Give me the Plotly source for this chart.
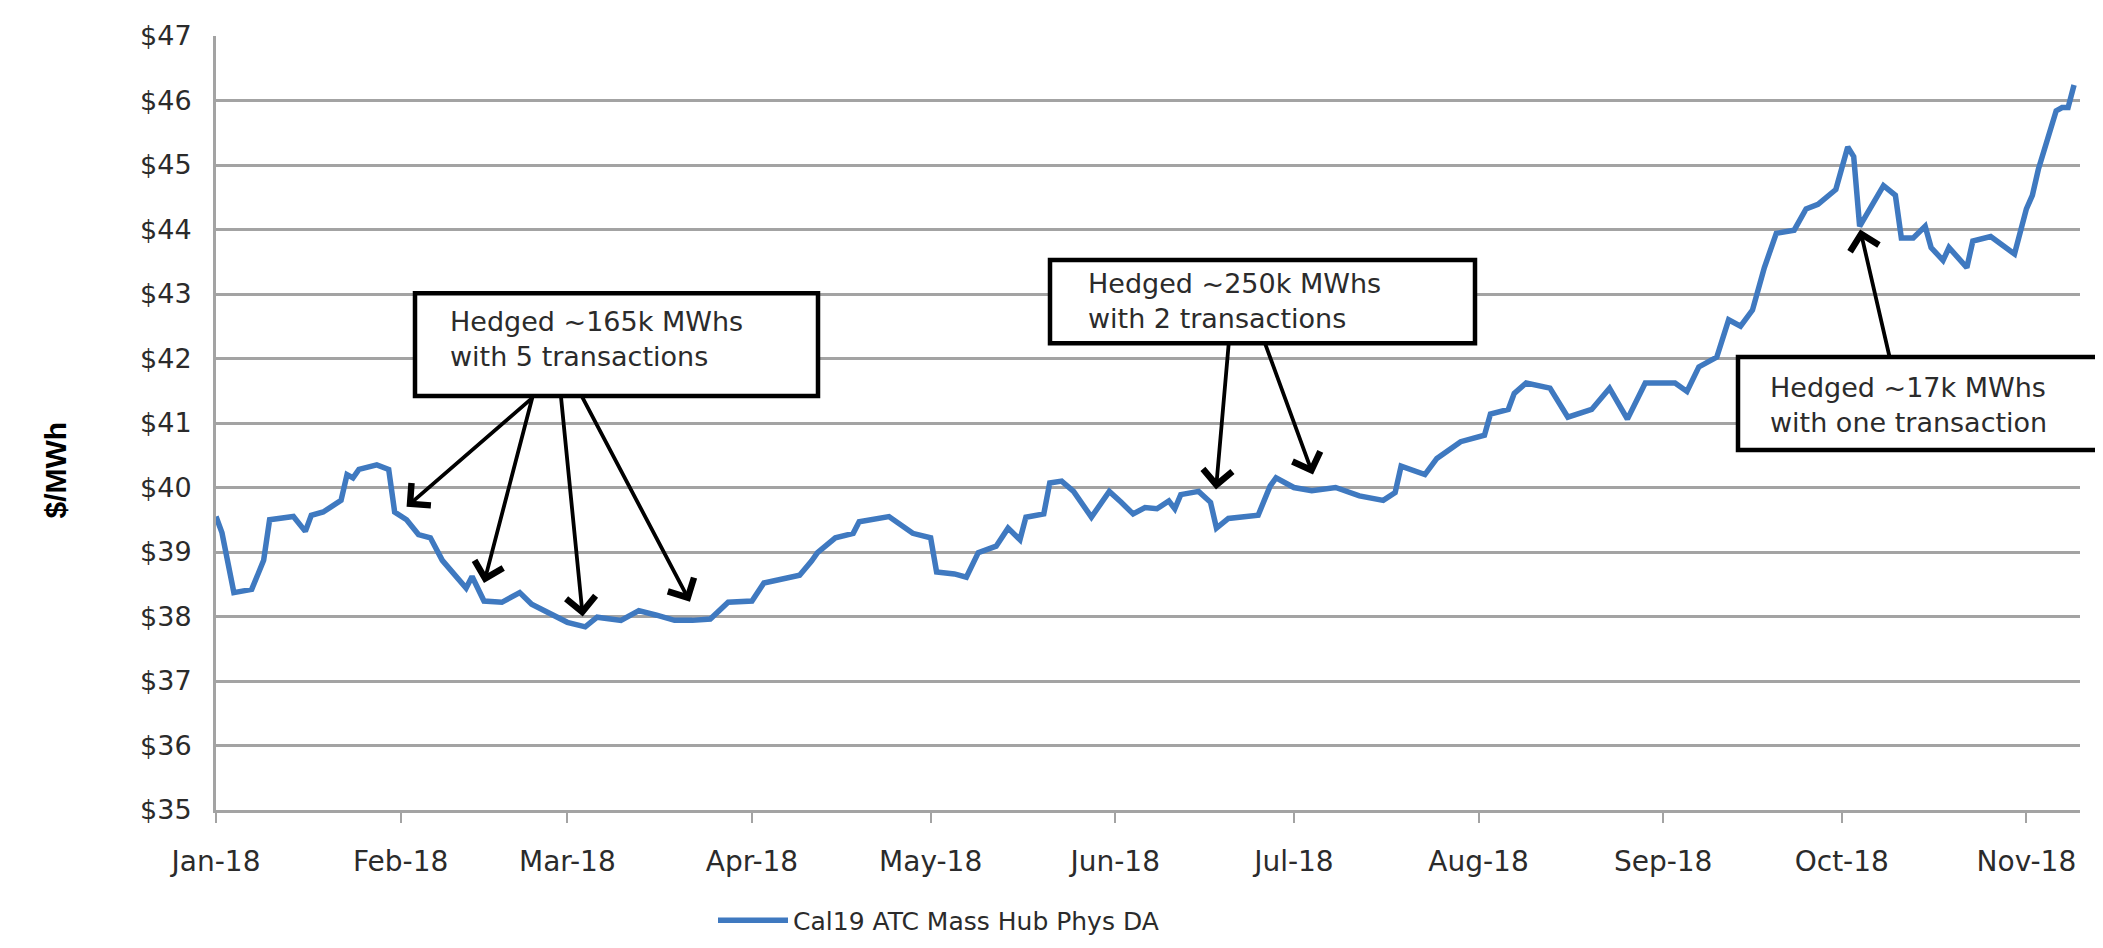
import plotly.graph_objects as go

# ---------------- data ----------------
dates = [
    "2018-01-01", "2018-01-02", "2018-01-04", "2018-01-07", "2018-01-09", "2018-01-10",
    "2018-01-14", "2018-01-16", "2018-01-17", "2018-01-19", "2018-01-22", "2018-01-23",
    "2018-01-24", "2018-01-25", "2018-01-28", "2018-01-30", "2018-01-31",
    "2018-02-02", "2018-02-04", "2018-02-06", "2018-02-08", "2018-02-11", "2018-02-12",
    "2018-02-13", "2018-02-15", "2018-02-18", "2018-02-21", "2018-02-23", "2018-02-26",
    "2018-03-01", "2018-03-04", "2018-03-06", "2018-03-10", "2018-03-13", "2018-03-16",
    "2018-03-19", "2018-03-22", "2018-03-25", "2018-03-28",
    "2018-04-01", "2018-04-03", "2018-04-09", "2018-04-11", "2018-04-12", "2018-04-15",
    "2018-04-18", "2018-04-19", "2018-04-23", "2018-04-24", "2018-04-28",
    "2018-05-01", "2018-05-02", "2018-05-05", "2018-05-07", "2018-05-09", "2018-05-12",
    "2018-05-14", "2018-05-16", "2018-05-17", "2018-05-20", "2018-05-21", "2018-05-23",
    "2018-05-25", "2018-05-28", "2018-05-31",
    "2018-06-02", "2018-06-04", "2018-06-06", "2018-06-08", "2018-06-10", "2018-06-11",
    "2018-06-12", "2018-06-15", "2018-06-17", "2018-06-18", "2018-06-20", "2018-06-25",
    "2018-06-27", "2018-06-28",
    "2018-07-01", "2018-07-04", "2018-07-08", "2018-07-12", "2018-07-16", "2018-07-18",
    "2018-07-19", "2018-07-23", "2018-07-25", "2018-07-29",
    "2018-08-02", "2018-08-03", "2018-08-06", "2018-08-07", "2018-08-09", "2018-08-13",
    "2018-08-16", "2018-08-20", "2018-08-23", "2018-08-26", "2018-08-29",
    "2018-09-03", "2018-09-05", "2018-09-07", "2018-09-10", "2018-09-12", "2018-09-14",
    "2018-09-16", "2018-09-18", "2018-09-20", "2018-09-23", "2018-09-25", "2018-09-27",
    "2018-09-30",
    "2018-10-02", "2018-10-03", "2018-10-04", "2018-10-06", "2018-10-08", "2018-10-10",
    "2018-10-11", "2018-10-13", "2018-10-15", "2018-10-16", "2018-10-18", "2018-10-19",
    "2018-10-20", "2018-10-22", "2018-10-23", "2018-10-26", "2018-10-30",
    "2018-11-01", "2018-11-02", "2018-11-03", "2018-11-06", "2018-11-07", "2018-11-08",
    "2018-11-09",
]
prices = [
    39.55, 39.30, 38.37, 38.42, 38.87, 39.50,
    39.55, 39.32, 39.57, 39.62, 39.80, 40.20,
    40.15, 40.28, 40.35, 40.28, 39.62,
    39.50, 39.27, 39.22, 38.87, 38.57, 38.44,
    38.62, 38.24, 38.22, 38.37, 38.19, 38.04,
    37.91, 37.84, 37.99, 37.94, 38.09, 38.02,
    37.94, 37.94, 37.96, 38.22,
    38.24, 38.52, 38.64, 38.86, 38.99, 39.22,
    39.29, 39.47, 39.52, 39.55, 39.29,
    39.22, 38.69, 38.66, 38.61, 38.99, 39.09,
    39.37, 39.19, 39.54, 39.59, 40.07, 40.10,
    39.94, 39.54, 39.94,
    39.77, 39.59, 39.69, 39.67, 39.79, 39.67,
    39.89, 39.94, 39.77, 39.37, 39.52, 39.57,
    40.02, 40.15,
    40.00, 39.95, 40.00, 39.87, 39.80, 39.92,
    40.33, 40.20, 40.45, 40.71,
    40.81, 41.14, 41.21, 41.46, 41.62, 41.54,
    41.09, 41.21, 41.54, 41.06, 41.62,
    41.62, 41.49, 41.87, 42.02, 42.60, 42.50,
    42.75, 43.41, 43.94, 43.99, 44.32, 44.39,
    44.62,
    45.28, 45.13, 44.05, 44.37, 44.68, 44.53,
    43.87, 43.87, 44.05, 43.72, 43.52, 43.72,
    43.62, 43.41, 43.82, 43.89, 43.62,
    44.32, 44.53, 44.93, 45.84, 45.89, 45.89,
    46.24,
]
series_name = "Cal19 ATC Mass Hub Phys DA"
y_title = "$/MWh"

# hedge call-outs: texts and the points each arrow points at
box_texts = [
    "Hedged ~165k MWhs<br>with 5 transactions",
    "Hedged ~250k MWhs<br>with 2 transactions",
    "Hedged ~17k MWhs<br>with one transaction",
]
hedge_dates = ["2018-02-02", "2018-02-15", "2018-03-03 14:00", "2018-03-21 14:00",
               "2018-06-17 22:00", "2018-07-04 05:00", "2018-10-04 02:00"]
hedge_values = [39.70, 38.52, 38.00, 38.23, 39.97, 40.20, 44.00]

# ---------------- figure ----------------
W, H = 2103, 948
L, R, T, B = 208, 31, 24, 133
PW, PH = W - L - R, H - T - B


def px(xp):
    return (xp - L) / PW


def py(yp):
    return (H - B - yp) / PH


LINE_BLUE = "#3f79c0"
GRID = "#a3a3a3"
TXT = "#2b2b2b"

fig = go.Figure()
fig.add_trace(go.Scatter(
    x=dates, y=prices, mode="lines", name=series_name,
    line=dict(color=LINE_BLUE, width=5.5),
))

# arrow tail offsets (pixels) for each hedge arrow
tails = [(127, -110), (49, -188), (-22, -222), (-109, -207),
         (13, -149), (-49, -134), (30, 130)]
annotations = []
for d, v, (ax, ay) in zip(hedge_dates, hedge_values, tails):
    annotations.append(dict(
        x=d, y=v, xref="x", yref="y", ax=ax, ay=ay, text="",
        showarrow=True, arrowhead=4, arrowsize=1.5, arrowwidth=3.8,
        arrowcolor="black",
    ))

# boxes (pixel extents in figure coords)
boxes = [(407, 287, 810, 392), (1042, 253, 1467, 338), (1730, 352, 2095, 447)]
text_pos = [(440, 334), (1078, 295), (1760, 401)]
shapes = []
for (x0, y0, x1, y1), txt, (tx, ty) in zip(boxes, box_texts, text_pos):
    shapes.append(dict(
        type="rect", xref="paper", yref="paper",
        x0=px(x0), x1=px(x1), y0=py(y1), y1=py(y0),
        line=dict(color="black", width=4.5), fillcolor="white", layer="above",
    ))
    annotations.append(dict(
        x=px(tx), y=py(ty), xref="paper", yref="paper", text=txt,
        showarrow=False, xanchor="left", yanchor="middle", align="left",
        font=dict(family="DejaVu Sans", size=27, color=TXT),
    ))

# y axis title
annotations.append(dict(
    x=px(47), y=py(468), xref="paper", yref="paper", text=y_title,
    showarrow=False, textangle=-90, xanchor="center", yanchor="middle",
    font=dict(family="Liberation Sans", size=30, color="black", weight="bold"),
))

fig.update_layout(
    width=W, height=H,
    margin=dict(l=L, r=R, t=T, b=B, pad=0),
    paper_bgcolor="white", plot_bgcolor="white",
    showlegend=True,
    legend=dict(
        orientation="h", x=px(705), y=py(928), xanchor="left", yanchor="middle",
        font=dict(family="DejaVu Sans", size=25, color=TXT),
        itemwidth=70, bgcolor="rgba(0,0,0,0)",
    ),
    shapes=shapes,
    annotations=annotations,
    xaxis=dict(
        type="date", range=["2018-01-01", "2018-11-10"],
        tick0="2018-01-01", dtick="M1", tickformat="%b-%y",
        showgrid=False, showline=True, linecolor=GRID, linewidth=3,
        ticks="outside", ticklen=10, tickwidth=2, tickcolor=GRID,
        ticklabelstandoff=14,
        tickfont=dict(family="DejaVu Sans", size=28, color=TXT),
        zeroline=False,
    ),
    yaxis=dict(
        range=[35, 47], dtick=1, tick0=35, tickprefix="$",
        showgrid=True, gridcolor=GRID, gridwidth=2.5,
        showline=True, linecolor=GRID, linewidth=3,
        ticks="", ticklabelstandoff=16,
        tickfont=dict(family="DejaVu Sans", size=27, color=TXT),
        zeroline=False,
    ),
)

fig.write_html("out.html")
